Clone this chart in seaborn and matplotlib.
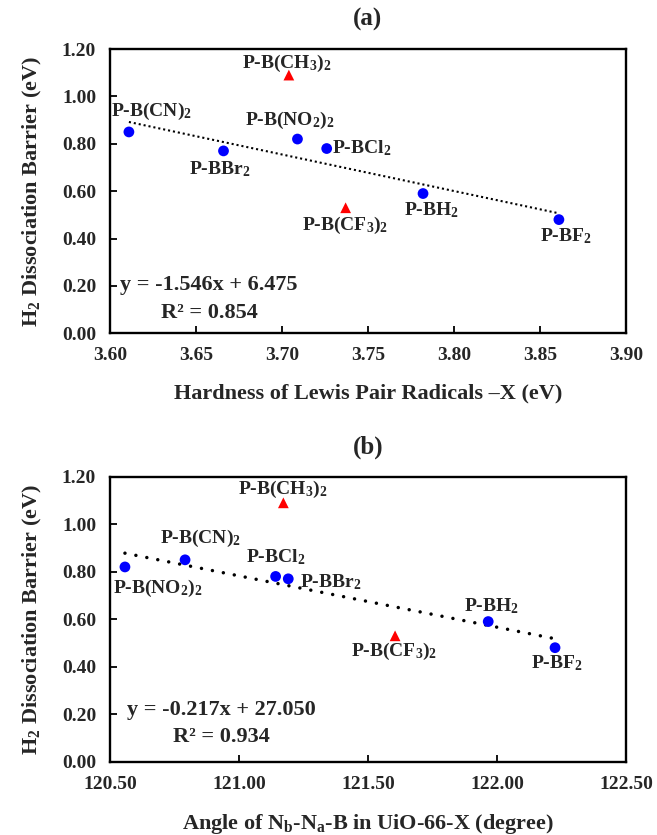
import numpy as np
import pandas as pd
import matplotlib
matplotlib.use("Agg")
import matplotlib.pyplot as plt
import seaborn as sns

# values
labels = ["P-B(CN)$_2$", "P-BBr$_2$", "P-B(NO$_2$)$_2$", "P-BCl$_2$",
          "P-BH$_2$", "P-BF$_2$", "P-B(CH$_3$)$_2$", "P-B(CF$_3$)$_2$"]
kinds = ["fit", "fit", "fit", "fit", "fit", "fit", "out", "out"]
barrier = [0.85, 0.77, 0.82, 0.78, 0.59, 0.48, 1.09, 0.53]
hardness = [3.611, 3.666, 3.709, 3.726, 3.782, 3.861, 3.704, 3.737]
angle = [120.791, 121.191, 120.558, 121.142, 121.966, 122.225, 121.172, 121.605]

yticks = [0.0, 0.2, 0.4, 0.6, 0.8, 1.0, 1.2]
xticks_a = [3.60, 3.65, 3.70, 3.75, 3.80, 3.85, 3.90]
xticks_b = [120.5, 121.0, 121.5, 122.0, 122.5]

eq_a = ["y = -1.546x + 6.475", "R² = 0.854"]
eq_b = ["y = -0.217x + 27.050", "R² = 0.934"]

# label offsets (pixels) from each point
offs_a = [(23, 21), (-4, -18), (-8, 19), (35, 0), (8, -17), (7, -17), (-2, 12), (-1, -18)]
offs_b = [(15, 21), (42, -3), (33, -21), (0, 19), (3, 15), (2, -15), (-1, 13), (-1, -16)]

sns.set_theme(style="white")
plt.rcParams["font.family"] = ["Liberation Serif", "DejaVu Serif"]
plt.rcParams["font.weight"] = "bold"
plt.rcParams["mathtext.fontset"] = "custom"
plt.rcParams["mathtext.rm"] = "Liberation Serif:bold"
plt.rcParams["mathtext.bf"] = "Liberation Serif:bold"
plt.rcParams["mathtext.it"] = "Liberation Serif:bold"
plt.rcParams["mathtext.default"] = "rm"

fig = plt.figure(figsize=(6.57, 8.35), dpi=100)
ax_a = fig.add_axes([0.1674, 0.6008, 0.7854, 0.3405])
ax_b = fig.add_axes([0.1674, 0.0878, 0.7854, 0.3413])


def panel(ax, x, offs, xlim, xticks, xlabel, eq, eq_x, eq_y, title, line_kws):
    df = pd.DataFrame({"x": x, "y": barrier, "kind": kinds})
    sns.regplot(data=df[df["kind"] == "fit"], x="x", y="y", scatter=False, ci=None,
                truncate=True, ax=ax, line_kws=line_kws)
    sns.scatterplot(data=df, x="x", y="y", hue="kind", style="kind",
                    palette={"fit": "#0000FF", "out": "#FF0000"},
                    markers={"fit": "o", "out": "^"}, s=60, linewidth=0,
                    legend=False, ax=ax, zorder=3)
    for lab, xi, yi, (dx, dy) in zip(labels, x, barrier, offs):
        ax.annotate(lab, (xi, yi), xytext=(dx, dy), textcoords="offset pixels",
                    ha="center", va="center", fontsize=14, fontweight="bold")
    ax.text(eq_x, eq_y[0], eq[0], transform=ax.transAxes, ha="center", va="center",
            fontsize=16, fontweight="bold")
    ax.text(eq_x, eq_y[1], eq[1], transform=ax.transAxes, ha="center", va="center",
            fontsize=16, fontweight="bold")
    ax.set_xlim(xlim)
    ax.set_ylim(0, 1.2)
    ax.set_xticks(xticks)
    ax.set_yticks(yticks)
    ax.set_xticklabels([f"{t:.2f}" for t in xticks])
    ax.set_yticklabels([f"{t:.2f}" for t in yticks])
    ax.tick_params(direction="in", length=5, width=1.3, color="black",
                   labelsize=14, pad=10, left=True, bottom=True)
    for sp in ax.spines.values():
        sp.set_color("black")
        sp.set_linewidth(1.7)
    ax.set_xlabel(xlabel, fontsize=16, fontweight="bold", labelpad=14)
    ax.set_ylabel("H$_2$ Dissociation Barrier (eV)", fontsize=16, fontweight="bold", labelpad=13)
    ax.set_title(title, fontsize=18, fontweight="bold", pad=17)


panel(ax_a, hardness, offs_a, (3.60, 3.90), xticks_a,
      "Hardness of Lewis Pair Radicals \u2013X (eV)", eq_a, 0.192, (0.170, 0.072), "(a)",
      dict(color="black", lw=1.5, ls=(0, (1, 1.4))))
panel(ax_b, angle, offs_b, (120.5, 122.5), xticks_b,
      "Angle of N$_b$-N$_a$-B in UiO-66-X (degree)", eq_b, 0.2165, (0.181, 0.088), "(b)",
      dict(color="black", lw=2.5, ls=(0, (0.01, 3.2)), dash_capstyle="round"))

fig.savefig("out.png", dpi=100)
